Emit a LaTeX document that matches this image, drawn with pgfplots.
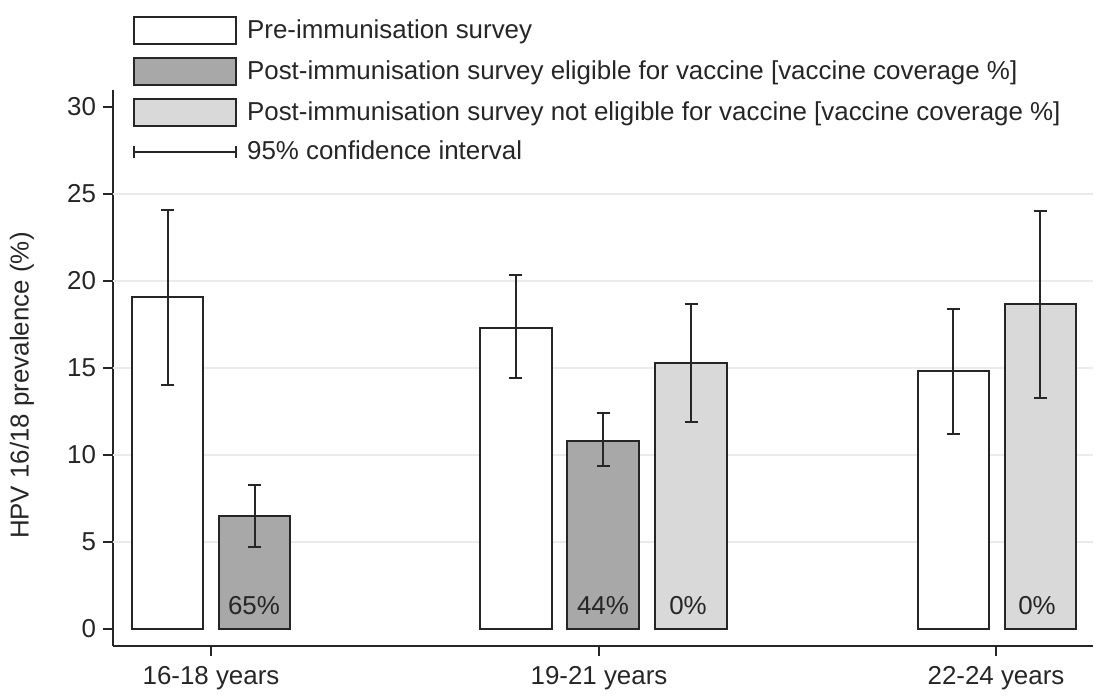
\documentclass[border=0pt]{standalone}
\usepackage{fontspec}
\setmainfont{Liberation Sans}
\usepackage{pgfplots}
\usepackage{pgfplotstable}
\pgfplotsset{compat=1.18}
\definecolor{darkbar}{HTML}{A8A8A8}
\definecolor{lightbar}{HTML}{D9D9D9}
\definecolor{txt}{HTML}{262626}
\definecolor{gridc}{HTML}{EBEBEB}

% x positions are in reference pixels
\pgfplotstableread{
x y ep em
168 19.1 5.0 5.05
516 17.3 3.05 2.85
953 14.8 3.6 3.6
}\pre
\pgfplotstableread{
x y ep em
255 6.5 1.8 1.8
603 10.8 1.6 1.45
}\elig
\pgfplotstableread{
x y ep em
691 15.3 3.4 3.4
1040 18.7 5.35 5.4
}\noelig

\begin{document}
\begin{tikzpicture}
\begin{axis}[
  x=0.5bp, y=8.7bp,
  xmin=113, xmax=1093, ymin=-0.98, ymax=31,
  axis lines=left,
  axis line style={-, line width=1bp, color=txt},
  xtick={211,599,996},
  xticklabels={16-18 years,19-21 years,22-24 years},
  ytick={0,5,...,30},
  extra y ticks={5,10,15,20,25},
  extra y tick labels={},
  extra y tick style={ymajorgrids=true, major tick length=0pt},
  grid style={gridc, line width=1bp},
  tick align=outside,
  major tick length=5bp,
  tick style={line width=1bp, color=txt},
  ticklabel style={font=\fontsize{13}{15}\selectfont, text=txt},
  xticklabel style={yshift=-1.5bp},
  /pgf/number format/assume math mode=true,
  ylabel={HPV 16/18 prevalence (\%)},
  ylabel style={at={(axis description cs:-0.093,0.468)}, anchor=center, font=\fontsize{13}{15}\selectfont, text=txt},
  legend style={at={(axis description cs:0.014,1.14)}, anchor=north west, draw=none, fill=white,
    font=\fontsize{13}{15}\selectfont, text=txt, row sep=6bp, column sep=4bp,
    nodes={inner sep=1bp}, cells={anchor=west}},
  clip=false,
]
\addlegendimage{legend image code/.code={\draw[draw=txt, fill=white, line width=1bp] (0bp,-6.75bp) rectangle (51bp,6.75bp);}}
\addlegendentry{Pre-immunisation survey}
\addlegendimage{legend image code/.code={\draw[draw=txt, fill=darkbar, line width=1bp] (0bp,-6.75bp) rectangle (51bp,6.75bp);}}
\addlegendentry{Post-immunisation survey eligible for vaccine [vaccine coverage \%]}
\addlegendimage{legend image code/.code={\draw[draw=txt, fill=lightbar, line width=1bp] (0bp,-6.75bp) rectangle (51bp,6.75bp);}}
\addlegendentry{Post-immunisation survey not eligible for vaccine [vaccine coverage \%]}
\addlegendimage{legend image code/.code={\draw[txt, line width=1bp] (0bp,0bp) -- (51bp,0bp); \draw[txt, line width=1bp] (0bp,-3bp) -- (0bp,3bp); \draw[txt, line width=1bp] (51bp,-3bp) -- (51bp,3bp);}}
\addlegendentry{95\% confidence interval}

\addplot[ybar, bar shift=0pt, bar width=35.5bp, draw=txt, fill=white, line width=1bp, forget plot,
  error bars/.cd, y dir=both, y explicit,
  error bar style={line width=1bp, color=txt},
  error mark options={rotate=90, mark size=3.25bp, line width=1bp, color=txt}]
  table[x=x, y=y, y error plus=ep, y error minus=em] {\pre};
\addplot[ybar, bar shift=0pt, bar width=35.5bp, draw=txt, fill=darkbar, line width=1bp, forget plot,
  error bars/.cd, y dir=both, y explicit,
  error bar style={line width=1bp, color=txt},
  error mark options={rotate=90, mark size=3.25bp, line width=1bp, color=txt}]
  table[x=x, y=y, y error plus=ep, y error minus=em] {\elig};
\addplot[ybar, bar shift=0pt, bar width=35.5bp, draw=txt, fill=lightbar, line width=1bp, forget plot,
  error bars/.cd, y dir=both, y explicit,
  error bar style={line width=1bp, color=txt},
  error mark options={rotate=90, mark size=3.25bp, line width=1bp, color=txt}]
  table[x=x, y=y, y error plus=ep, y error minus=em] {\noelig};

\node[text=txt, font=\fontsize{13}{15}\selectfont] at (axis cs:254,1.35) {65\%};
\node[text=txt, font=\fontsize{13}{15}\selectfont] at (axis cs:603,1.35) {44\%};
\node[text=txt, font=\fontsize{13}{15}\selectfont] at (axis cs:688,1.35) {0\%};
\node[text=txt, font=\fontsize{13}{15}\selectfont] at (axis cs:1037,1.35) {0\%};

\coordinate (bbsw) at (axis cs:0,-3.793);
\coordinate (bbne) at (axis cs:1112,36.15);
\end{axis}
\pgfresetboundingbox
\path (bbsw) rectangle (bbne);
\end{tikzpicture}
\end{document}
